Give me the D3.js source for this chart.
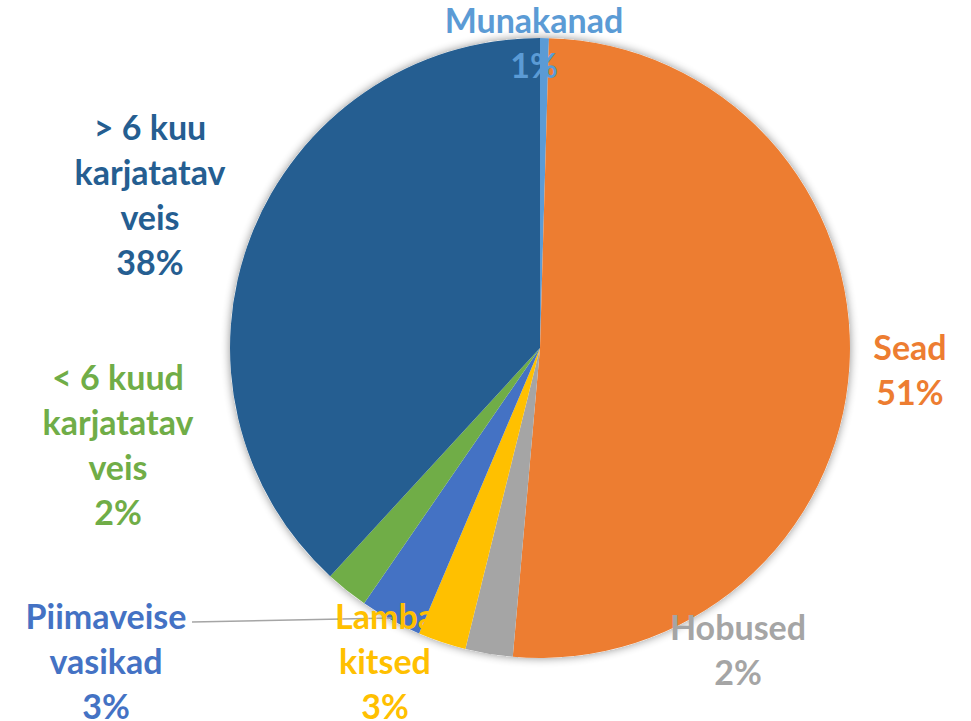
<!DOCTYPE html>
<html lang="en">
<head>
    <meta charset="UTF-8">
    <title>Pie</title>
    <script src="https://d3js.org/d3.v7.min.js"></script>
    <style>
        body { margin: 0; background: #fff; }
        #chart { width: 971px; height: 721px; }
        text { font-family: Lato, "Open Sans", sans-serif; font-weight: 700; }
    </style>
</head>
<body>
    <div id="chart"></div>
    <script>
        // slices, clockwise from 12 o'clock
        const categories = ['Munakanad', 'Sead', 'Hobused', 'Lamba kitsed', 'Piimaveise vasikad', '< 6 kuud karjatatav veis', '> 6 kuu karjatatav veis'];
        const shares = [0.46, 50.94, 2.47, 2.51, 3.22, 2.23, 38.17];
        const pctLabels = ['1%', '51%', '2%', '3%', '3%', '2%', '38%'];
        const colors = ['#5B9BD5', '#ED7D31', '#A5A5A5', '#FFC000', '#4472C4', '#70AD47', '#255E91'];

        // label text split in lines, plus baseline of the first line
        const labelLines = [
            ['Munakanad'],
            ['Sead'],
            ['Hobused'],
            ['Lamba', 'kitsed'],
            ['Piimaveise', 'vasikad'],
            ['< 6 kuud', 'karjatatav', 'veis'],
            ['> 6 kuu', 'karjatatav', 'veis']
        ];
        const labelPos = [[534, 33], [910, 360], [738, 640], [385, 629], [106, 629], [118, 390], [150, 140]];

        const W = 971, H = 721;
        const cx = 540, cy = 348, r = 310;
        const lineH = 45;

        const svg = d3.select('#chart').append('svg')
            .attr('width', W).attr('height', H);

        const defs = svg.append('defs');
        const f = defs.append('filter').attr('id', 'shadow')
            .attr('x', '-10%').attr('y', '-10%').attr('width', '120%').attr('height', '120%');
        f.append('feGaussianBlur').attr('in', 'SourceAlpha').attr('stdDeviation', 5);
        f.append('feComponentTransfer').append('feFuncA').attr('type', 'linear').attr('slope', 0.45);
        const m = f.append('feMerge');
        m.append('feMergeNode');
        m.append('feMergeNode').attr('in', 'SourceGraphic');

        const data = categories.map((c, i) => ({ name: c, value: shares[i], i: i }));
        const pie = d3.pie().value(d => d.value).sort(null);
        const arc = d3.arc().innerRadius(0).outerRadius(r);
        const arcs = pie(data);

        const g = svg.append('g').attr('transform', `translate(${cx},${cy})`);
        g.append('circle').attr('r', r).attr('fill', '#fff').attr('filter', 'url(#shadow)');
        g.selectAll('path.slice')
            .data(arcs)
            .enter()
            .append('path')
            .attr('class', 'slice')
            .attr('d', arc)
            .attr('fill', d => colors[d.data.i]);

        // leader line for Piimaveise vasikad
        const edge = d3.arc().innerRadius(r - 2).outerRadius(r - 2);
        const p = edge.centroid(arcs[4]);
        svg.append('line')
            .attr('x1', 192).attr('y1', 622)
            .attr('x2', cx + p[0]).attr('y2', cy + p[1])
            .attr('stroke', '#A5A5A5').attr('stroke-width', 1.5);

        // labels
        data.forEach((d, i) => {
            const lines = labelLines[i].concat([pctLabels[i]]);
            const t = svg.append('text')
                .attr('text-anchor', 'middle')
                .attr('fill', colors[i])
                .style('font-size', '34px');
            lines.forEach((s, k) => {
                t.append('tspan')
                    .attr('x', labelPos[i][0])
                    .attr('y', labelPos[i][1] + k * lineH)
                    .text(s);
            });
        });
    </script>
</body>
</html>
